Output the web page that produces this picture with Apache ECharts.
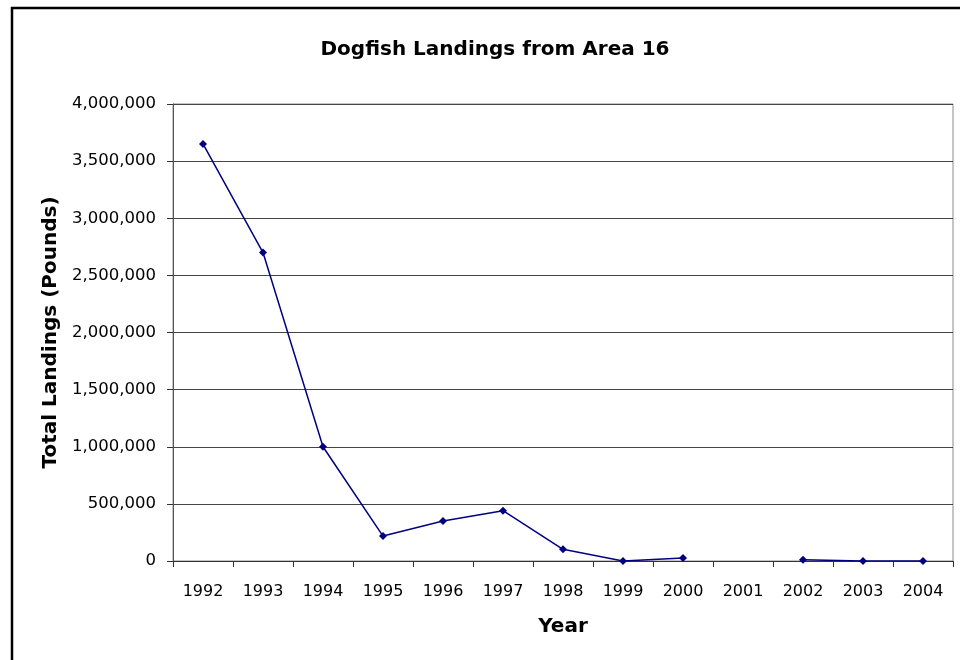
<!DOCTYPE html>
<html lang="en">
<head>
<meta charset="UTF-8">
<title>Dogfish Landings from Area 16</title>
<style>
  html, body { margin: 0; padding: 0; background: #fff; }
  #main { width: 960px; height: 660px; }
</style>
</head>
<body>
<div id="main"></div>
<script src="https://cdn.jsdelivr.net/npm/echarts@6/dist/echarts.min.js"></script>
<script>
// years on the x axis
var years = ['1992', '1993', '1994', '1995', '1996', '1997', '1998',
             '1999', '2000', '2001', '2002', '2003', '2004'];
// total landings in pounds (2001 has no value)
var landings = [3650000, 2700000, 1000000, 218000, 350000, 440000, 102000,
                0, 26000, null, 12000, 0, 1000];
// y axis range
var yMin = 0, yMax = 4000000, yStep = 500000;

function commas(v) {
  return String(v).replace(/\B(?=(\d{3})+(?!\d))/g, ',');
}

var font = 'DejaVu Sans';
var myChart = echarts.init(document.getElementById('main'), null, { renderer: 'canvas' });

var option = {
  backgroundColor: '#fff',
  animation: false,
  title: {
    text: 'Dogfish Landings from Area 16',
    left: 490,
    top: 35,
    textAlign: 'center',
    textStyle: { fontFamily: font, fontSize: 20, fontWeight: 'bold', color: '#000' }
  },
  graphic: [{
    type: 'rect',
    shape: { x: 12, y: 8, width: 1000, height: 700 },
    style: { fill: 'none', stroke: '#000', lineWidth: 2.5 },
    silent: true
  }],
  grid: {
    left: 173, top: 104, right: 7, bottom: 99,
    show: true, borderColor: '#8a8a8a', borderWidth: 1, backgroundColor: '#fff'
  },
  xAxis: {
    type: 'category',
    data: years,
    boundaryGap: true,
    name: 'Year',
    nameLocation: 'middle',
    nameGap: 56,
    nameTextStyle: { fontFamily: font, fontSize: 20, fontWeight: 'bold', color: '#000' },
    axisLine: { lineStyle: { color: '#333', width: 1 } },
    axisTick: { show: true, length: 6, inside: false, lineStyle: { color: '#333' } },
    axisLabel: { fontFamily: font, fontSize: 16, color: '#000', margin: 23 },
    splitLine: { show: false }
  },
  yAxis: {
    type: 'value',
    min: yMin, max: yMax, interval: yStep,
    name: 'Total Landings (Pounds)',
    nameLocation: 'middle',
    nameGap: 111,
    nameRotate: 90,
    nameTextStyle: { fontFamily: font, fontSize: 20, fontWeight: 'bold', color: '#000' },
    axisLine: { show: true, lineStyle: { color: '#555', width: 1 } },
    axisTick: { show: true, length: 6, inside: false, lineStyle: { color: '#333' } },
    axisLabel: {
      fontFamily: font, fontSize: 16.5, color: '#000', margin: 17,
      formatter: function (v) { return commas(v); }
    },
    splitLine: { show: true, lineStyle: { color: '#444', width: 1 } }
  },
  series: [{
    name: 'Landings',
    type: 'line',
    data: landings,
    connectNulls: false,
    symbol: 'diamond',
    symbolSize: 8,
    showAllSymbol: true,
    lineStyle: { color: '#000080', width: 1.5 },
    itemStyle: { color: '#000080' }
  }]
};

myChart.setOption(option);
</script>
</body>
</html>
